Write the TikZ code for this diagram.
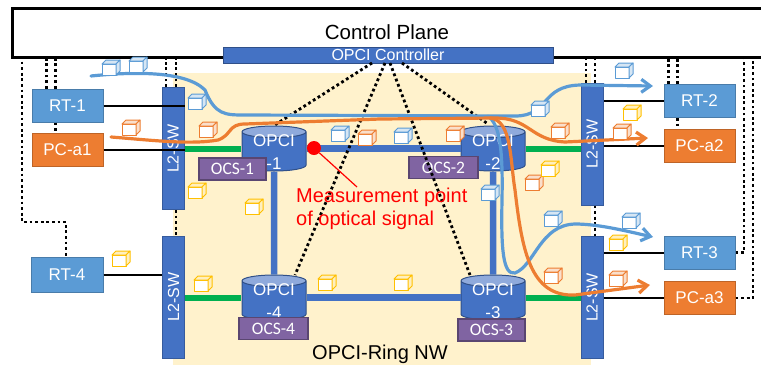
\documentclass[tikz,border=0pt]{standalone}
\usepackage{fontspec}
\setmainfont{Liberation Sans}
\newfontfamily\ocsfont{Carlito}
\usetikzlibrary{arrows.meta,shapes.geometric}
\definecolor{ringbg}{HTML}{FFF2CC}
\definecolor{nwblue}{HTML}{4472C4}
\definecolor{rtblue}{HTML}{5B9BD5}
\definecolor{pcorange}{HTML}{ED7D31}
\definecolor{ocspurple}{HTML}{8064A2}
\definecolor{linkgreen}{HTML}{00B050}
\definecolor{pktyellow}{HTML}{FFC000}
\newcommand{\opcitxt}[1]{\raisebox{-18pt}[0pt][0pt]{\shortstack{OPCI\\[8pt]#1}}}

\begin{document}
\begin{tikzpicture}[
  x=1pt, y=-1pt,
  rtbox/.style={draw=rtblue!80!black, fill=rtblue, line width=1pt, text=white, minimum width=71pt, minimum height=33pt, inner sep=0pt, font=\fontsize{17}{20}\selectfont},
  pcbox/.style={rtbox, draw=pcorange!80!black, fill=pcorange},
  swbox/.style={draw=nwblue!80!black, fill=nwblue, line width=1pt, text=white, minimum width=122pt, minimum height=22pt, inner sep=0pt, rotate=90, font=\fontsize{16}{19}\selectfont},
  opci/.style={cylinder, shape border rotate=90, anchor=shape center, draw=nwblue!70!black, line width=1pt, aspect=0.28, cylinder uses custom fill, cylinder body fill=nwblue, cylinder end fill=nwblue!60, minimum width=64pt, minimum height=45pt, inner sep=0pt, text=white, font=\fontsize{17}{21}\selectfont},
  ocsbox/.style={draw=ocspurple!70!black, fill=ocspurple, line width=1.5pt, text=white, minimum width=67pt, minimum height=22pt, inner sep=0pt, font=\ocsfont\fontsize{17.5}{19}\selectfont},
  ringlink/.style={draw=nwblue, line width=6.5pt},
  sdnlink/.style={draw=linkgreen, line width=6pt},
  wire/.style={draw=black, line width=2pt},
  ctl/.style={draw=black, line width=2.8pt, dash pattern=on 2.8pt off 2.8pt},
  flowblue/.style={draw=rtblue, line width=3.2pt, line cap=round},
  floworange/.style={draw=pcorange, line width=3.2pt, line cap=round},
  flowtip/.style={-{Straight Barb[length=9pt,width=13pt]}},
  pkt/.pic={
    \draw[#1, fill=white, line width=1pt, line join=round] (-9,-3) rectangle (5,8);
    \draw[#1, fill=#1!25, line width=1pt, line join=round] (-9,-3) -- (-5,-7) -- (9,-7) -- (5,-3) -- cycle;
    \draw[#1, fill=#1!25, line width=1pt, line join=round] (5,-3) -- (9,-7) -- (9,4) -- (5,8) -- cycle;
  }
]
\useasboundingbox (0,0) rectangle (761,365);
% ring area and control plane
\fill[ringbg] (173,73) rectangle (591,365);
\node[draw=black, fill=white, line width=2.6pt, minimum width=764pt, minimum height=49pt, anchor=north west, inner sep=0pt] (plane) at (11,7) {};
\node[font=\fontsize{20.5}{24}\selectfont] (planetxt) at (387,32) {Control Plane};
\node[draw=nwblue!70!black, fill=nwblue, line width=1pt, text=white, minimum width=330pt, minimum height=16pt, inner sep=0pt, font=\fontsize{16}{16}\selectfont] (ctrl) at (388,55) {OPCI Controller};
\node[font=\fontsize{20}{24}\selectfont] (ringtxt) at (380,354) {OPCI-Ring NW};

% end devices
\node[rtbox] (rt1) at (67.5,105.5) {RT-1};
\node[pcbox] (pc1) at (67.5,150) {PC-a1};
\node[rtbox] (rt2) at (699.5,101) {RT-2};
\node[pcbox] (pc2) at (699.5,145.5) {PC-a2};
\node[rtbox] (rt3) at (699.5,252.5) {RT-3};
\node[pcbox] (pc3) at (699.5,298) {PC-a3};
\node[rtbox, minimum width=72pt, minimum height=35pt] (rt4) at (67,274.5) {RT-4};

% switches
\node[swbox] (sw1) at (173,148.5) {L2-SW};
\node[swbox] (sw4) at (173.5,297) {L2-SW};
\node[swbox] (sw2) at (592,144) {L2-SW};
\node[swbox] (sw3) at (592,297.5) {L2-SW};

% control lines
\draw[ctl] (22,56) -- (22,222) -- (66,222) -- (rt4.north -| 66,0);
\draw[ctl] ([xshift=-21pt]rt1.north) -- ([xshift=-21pt]rt1.north |- plane.south);
\draw[ctl] ([xshift=-12pt]rt1.north) -- ([xshift=-12pt]rt1.north |- plane.south);
\draw[ctl] ([xshift=-12pt]rt1.south) -- ([xshift=-12pt]pc1.north);
\draw[ctl] ([xshift=-7pt]sw1.east) -- ([xshift=-7pt]sw1.east |- plane.south);
\draw[ctl] ([xshift=3pt]sw1.east) -- ([xshift=3pt]sw1.east |- plane.south);
\draw[ctl] ([xshift=3pt]sw1.west) -- ([xshift=2.5pt]sw4.east);
\draw[ctl] ([xshift=-6pt]sw2.east) -- ([xshift=-6pt]sw2.east |- plane.south);
\draw[ctl] ([xshift=3pt]sw2.east) -- ([xshift=3pt]sw2.east |- plane.south);
\draw[ctl] ([xshift=3pt]sw2.west) -- ([xshift=3pt]sw3.east);
\draw[ctl] ([xshift=-31pt]rt2.north) -- ([xshift=-31pt]rt2.north |- plane.south);
\draw[ctl] ([xshift=-22pt]rt2.north) -- ([xshift=-22pt]rt2.north |- plane.south);
\draw[ctl] ([xshift=-22pt]rt2.south) -- ([xshift=-22pt]pc2.north);
\draw[ctl] (rt3.east) -- (744,252.5) -- (744,56);
\draw[ctl] (pc3.east) -- (753,298) -- (753,56);

% ring links
\node[opci] (opci1) at (274,148.5) {\opcitxt{-1}};
\node[opci] (opci2) at (493,148.5) {\opcitxt{-2}};
\node[opci] (opci3) at (493,297.5) {\opcitxt{-3}};
\node[opci] (opci4) at (274,297.5) {\opcitxt{-4}};
\draw[ringlink] (opci1.east |- 0,148.5) -- (opci2.west |- 0,148.5);
\draw[ringlink] (opci2.south) -- (opci3.north);
\draw[ringlink] (opci3.west |- 0,297.5) -- (opci4.east |- 0,297.5);
\draw[ringlink] (opci4.north) -- (opci1.south);
\draw[sdnlink] (sw1.south |- 0,148.5) -- (opci1.west |- 0,148.5);
\draw[sdnlink] (opci2.east |- 0,148.5) -- (sw2.north |- 0,148.5);
\draw[sdnlink] (sw4.south |- 0,297.5) -- (opci4.west |- 0,297.5);
\draw[sdnlink] (opci3.east |- 0,297.5) -- (sw3.north |- 0,297.5);

\node[ocsbox] (ocs1) at (232.5,169) {OCS-1};
\node[ocsbox, minimum width=69pt] (ocs2) at (443.5,167.5) {OCS-2};
\node[ocsbox] (ocs3) at (491.5,330) {OCS-3};
\node[ocsbox, minimum width=69pt] (ocs4) at (273.5,328.5) {OCS-4};

% data plane wires
\draw[wire] (rt1) -- (rt1 -| sw1.south);
\draw[wire] (pc1) -- (pc1 -| sw1.south);
\draw[wire] (rt4) -- (rt4 -| sw4.north);
\draw[wire] (rt2.west) -- (rt2.west -| sw2.south);
\draw[wire] (pc2.west) -- (pc2.west -| sw2.south);
\draw[wire] (rt3.west) -- (rt3.west -| sw3.south);
\draw[wire] (pc3.west) -- (pc3.west -| sw3.south);

% controller to OPCI nodes
\draw[ctl] (372,63) -- (opci1.north);
\draw[ctl] (385,63) -- (295,275);
\draw[ctl] (390,63) -- (470,275);
\draw[ctl] (402,63) -- (488,124);

% measurement point
\node[circle, fill=red, minimum size=14pt, inner sep=0pt] (meas) at (314,148) {};
\node[text=red, align=left, anchor=north west, inner sep=0pt, font=\fontsize{20}{23}\selectfont] (meastxt) at (296,188) {Measurement point\\of optical signal};
\coordinate (measend) at (357,187);
\draw[red, line width=1.2pt] (meas) -- (measend);

% traffic flows
\coordinate (bluein) at (91,76);
\coordinate (blueout) at (653,86);
\coordinate (bluefork) at (488,116);
\coordinate (blueout2) at (653,237);
\coordinate (orangein) at (111,137);
\coordinate (orangeout) at (648,138);
\coordinate (orangefork) at (490,118);
\coordinate (orangeout2) at (650,285);
\draw[flowblue, flowtip] (bluein) .. controls (130,72) and (185,70) .. (205,90) .. controls (215,115) and (225,115) .. (245,115) -- (515,116) .. controls (550,116) and (540,86) .. (580,85) -- (blueout);
\draw[flowblue, flowtip] (bluefork) .. controls (500,125) and (503,150) .. (502,200) .. controls (501,250) and (503,275) .. (515,273) .. controls (535,265) and (540,225) .. (575,224) .. controls (600,224) and (630,232) .. (blueout2);
\draw[floworange, flowtip] (orangein) .. controls (150,140) and (190,145) .. (218,140) .. controls (232,135) and (228,124) .. (245,124) -- (380,119) -- (495,118) .. controls (530,118) and (530,140) .. (565,142) -- (orangeout);
\draw[floworange, flowtip] (orangefork) .. controls (512,120) and (510,160) .. (515,190) .. controls (522,250) and (530,297) .. (575,295) -- (orangeout2);

% packets
\foreach \x/\y in {111/67, 138/64, 197/101, 340/133, 403/135, 540/108, 624/70, 490/192, 553/218, 631/220}
  \pic at (\x,\y) {pkt=rtblue};
\foreach \x/\y in {131/127, 208/129, 367/137, 455/133, 560/130, 622/131, 534/182, 553/275, 618/278}
  \pic at (\x,\y) {pkt=pcorange};
\foreach \x/\y in {632/112, 550/168, 197/190, 254/206, 121/258, 203/283, 327/282, 403/282, 618/242}
  \pic at (\x,\y) {pkt=pktyellow};
\end{tikzpicture}
\end{document}
